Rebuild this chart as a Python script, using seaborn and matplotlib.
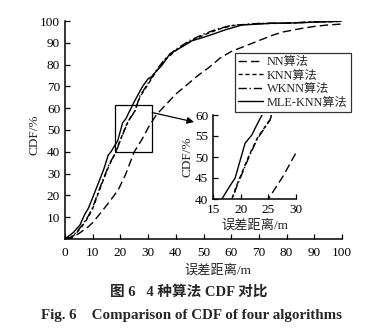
import numpy as np
import pandas as pd
import matplotlib
matplotlib.use("Agg")
import matplotlib.pyplot as plt
import seaborn as sns

# ---- data ----
nn_x = [0, 2, 5, 8.4, 10, 13.2, 16, 19.2, 22, 25, 27.7, 30, 33, 36.7, 40, 43.9, 48, 52.3,
        56, 60, 65.6, 70, 75, 78.8, 85, 90, 95, 100]
nn_y = [0, 0.3, 2.5, 5.6, 7.5, 12.5, 17, 22.5, 30, 40, 45.5, 51, 57, 62, 66.5, 70.6, 75, 79,
        83, 86, 88.8, 91, 93.5, 95, 96.5, 97.5, 98.2, 98.6]

knn_x = [0, 2, 4, 6, 8.4, 10, 13.2, 16, 18.4, 19.2, 21.4, 23, 25.2, 27, 30, 33, 36, 40, 45,
         50, 55, 60, 65, 70, 80, 90, 100]
knn_y = [0, 0.5, 2.5, 5.5, 10, 14, 25, 34, 40, 43, 50, 54.5, 58.7, 65, 71, 77, 82, 86.5, 90.5,
         93.5, 96, 97.8, 98.3, 98.8, 99, 99.5, 99.8]

wknn_x = [0, 2, 4, 6, 8.4, 10, 13.2, 16, 18.5, 19.3, 21.5, 23, 25.3, 27, 30, 33, 36, 40, 45,
          50, 55, 60, 65, 70, 80, 90, 100]
wknn_y = [0, 0.8, 3, 6, 10.5, 14.5, 25.5, 34.5, 40, 43, 50, 54.3, 58.8, 65.5, 71.5, 77.5, 82.5,
          87, 91, 94, 96.3, 98, 98.4, 98.9, 99.1, 99.6, 99.9]

mle_x = [0, 3, 5.4, 7.2, 8.4, 10, 12, 14, 15.6, 16.6, 18, 19, 20.8, 22, 22.9, 23.7, 25, 28, 30,
         31.3, 33, 34.9, 37.9, 40, 42.7, 46, 50, 53.5, 58, 64, 70, 75, 80, 85, 90, 95, 100]
mle_y = [0, 3, 6.4, 11.5, 14, 19, 25.5, 32, 38.5, 40, 43, 45, 53.3, 55.2, 57.6, 59.6, 63, 70,
         73.5, 74.5, 77, 79.5, 85, 86.5, 88.5, 91, 92.5, 94, 96, 98.2, 98.6, 99, 99, 99.2, 99.5,
         99.7, 100]

labels = ["NN算法", "KNN算法", "WKNN算法", "MLE-KNN算法"]
main_xticks = list(range(0, 101, 10))
main_yticks = list(range(10, 101, 10))
inset_xticks = [15, 20, 25, 30]
inset_yticks = [40, 45, 50, 55, 60]
zoom_box = (18, 40, 31.5, 61.5)  # x0, y0, x1, y1 of the marked region

# ---- style ----
sns.set_style("ticks")
FAM = ["Liberation Serif", "Noto Sans CJK SC"]
plt.rcParams["font.family"] = FAM
plt.rcParams["font.size"] = 9.5
plt.rcParams["axes.unicode_minus"] = False

series = [
    (nn_x, nn_y, (0, (6, 3))),
    (knn_x, knn_y, (0, (3, 2))),
    (wknn_x, wknn_y, (0, (6, 2, 1, 2))),
    (mle_x, mle_y, "-"),
]

fig = plt.figure(figsize=(3.71, 3.30), dpi=100)
ax = fig.add_axes([65 / 371, 1 - 239 / 330, (342 - 65) / 371, (239 - 21) / 330])
axi = fig.add_axes([213 / 371, 1 - 199 / 330, (296 - 213) / 371, (199 - 115) / 330])

for a in (ax, axi):
    for (xs, ys, ls), lab in zip(series, labels):
        df = pd.DataFrame({"x": xs, "y": ys})
        sns.lineplot(data=df, x="x", y="y", ax=a, color="black", lw=1.0,
                     linestyle=ls, label=lab if a is ax else None, legend=False)
    for s in ("top", "right"):
        a.spines[s].set_visible(False)
    for s in ("left", "bottom"):
        a.spines[s].set_linewidth(1.1)
        a.spines[s].set_color("black")
    a.tick_params(direction="in", length=3.5, width=0.9, colors="black", labelsize=9.5)

ax.set_xlim(0, 100)
ax.set_ylim(0, 100)
ax.set_xticks(main_xticks)
ax.set_yticks(main_yticks)
ax.tick_params(axis="x", pad=6)
ax.set_xlabel("误差距离/m", fontsize=9.5)
ax.set_ylabel("CDF/%", fontsize=9.5)
ax.xaxis.set_label_coords((218 - 65) / (342 - 65), -0.115)
ax.yaxis.set_label_coords(-0.087, 0.48)

axi.set_xlim(15, 30)
axi.set_ylim(40, 60)
axi.set_xticks(inset_xticks)
axi.set_yticks(inset_yticks)
axi.set_xlabel("误差距离/m", fontsize=9.5, labelpad=2)
axi.set_ylabel("CDF/%", fontsize=9.5, labelpad=1)
axi.patch.set_alpha(0)

# marked region and arrow
x0, y0, x1, y1 = zoom_box
ax.add_patch(plt.Rectangle((x0, y0), x1 - x0, y1 - y0, fill=False, ec="black", lw=0.9))
ax.annotate("", xy=(194 / 371, 1 - 122 / 330), xycoords="figure fraction",
            xytext=(x1, 58), textcoords="data",
            arrowprops=dict(arrowstyle="-|>", color="black", lw=0.9,
                            mutation_scale=10, shrinkA=0, shrinkB=0))

leg = ax.legend(loc="upper left", bbox_to_anchor=(235 / 371, 1 - 53 / 330),
                bbox_transform=fig.transFigure, frameon=True, fancybox=False,
                edgecolor="black", handlelength=2.0, handletextpad=0.35,
                labelspacing=0.12, borderpad=0.25, fontsize=8.8, borderaxespad=0)
leg.get_frame().set_linewidth(0.9)

fig.text(0.51, 1 - 292 / 330, "图 6   4 种算法 CDF 对比", ha="center", va="center",
         fontsize=10.5, fontweight="bold", family=FAM)
fig.text(0.515, 1 - 316 / 330, "Fig. 6    Comparison of CDF of four algorithms",
         ha="center", va="center", fontsize=10.8, fontweight="bold", family=FAM)

fig.savefig("out.png", dpi=100)
